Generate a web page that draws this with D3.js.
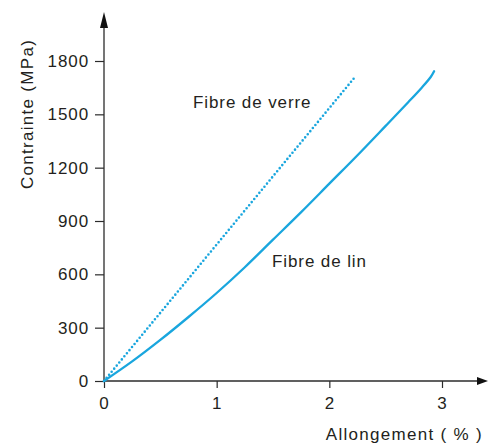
<!DOCTYPE html>
<html>
<head>
<meta charset="utf-8">
<script src="https://cdn.jsdelivr.net/npm/d3@7"></script>
<style>
  html, body { margin: 0; padding: 0; background: #fff; }
  svg { display: block; }
  text { font-family: "Liberation Sans", Arial, sans-serif; fill: #231f20; }
</style>
</head>
<body>
<svg id="chart" width="488" height="443"></svg>
<script>
// Data
const xTicks = [0, 1, 2, 3];
const yTicks = [0, 300, 600, 900, 1200, 1500, 1800];
const xTitle = "Allongement ( % )";
const yTitle = "Contrainte (MPa)";
const verreLabel = "Fibre de verre";
const linLabel = "Fibre de lin";
// Fibre de verre (linear, dotted)
const verreX = [0, 2.22];
const verreY = [0, 1704];
// Fibre de lin (solid curve)
const linX = [0, 0.25, 0.5, 0.75, 1, 1.25, 1.5, 1.75, 2, 2.25, 2.5, 2.7, 2.82, 2.9, 2.93];
const linY = [0, 110, 231, 360, 495, 640, 795, 950, 1110, 1270, 1435, 1568, 1650, 1710, 1742];

const svg = d3.select("#chart");
const x = d3.scaleLinear().domain([0, 3]).range([104, 442]);
const y = d3.scaleLinear().domain([0, 1800]).range([381, 61]);
const axisColor = "#2b2b2b";
const lineColor = "#19a6de";
const fontSize = "17px";
const ls = "0.9px";

// Y axis
const yAxis = svg.append("g").attr("transform", `translate(${x(0)},0)`)
  .call(d3.axisLeft(y).tickValues(yTicks).tickSize(9).tickPadding(6).tickFormat(d3.format("d")));
yAxis.select(".domain").remove();
yAxis.selectAll(".tick line").attr("stroke", axisColor).attr("stroke-width", 1.2);
yAxis.selectAll(".tick text").attr("font-size", fontSize).attr("letter-spacing", ls)
  .attr("font-family", "Liberation Sans, Arial, sans-serif").attr("fill", "#231f20");

// X axis
const xAxis = svg.append("g").attr("transform", `translate(0,${y(0)})`)
  .call(d3.axisBottom(x).tickValues(xTicks).tickSize(7).tickPadding(9).tickFormat(d3.format("d")));
xAxis.select(".domain").remove();
xAxis.selectAll(".tick line").attr("stroke", axisColor).attr("stroke-width", 1.2);
xAxis.selectAll(".tick text").attr("font-size", fontSize).attr("letter-spacing", ls)
  .attr("font-family", "Liberation Sans, Arial, sans-serif").attr("fill", "#231f20");

// Axis lines with arrows
svg.append("line").attr("x1", x(0)).attr("x2", x(0)).attr("y1", y(0)).attr("y2", 24)
  .attr("stroke", axisColor).attr("stroke-width", 1.3);
svg.append("path").attr("d", `M${x(0)},12 L${x(0) - 4},28 L${x(0) + 4},28 Z`).attr("fill", "#111");
svg.append("line").attr("x1", x(0)).attr("x2", 478).attr("y1", y(0)).attr("y2", y(0))
  .attr("stroke", axisColor).attr("stroke-width", 1.3);
svg.append("path").attr("d", `M488,${y(0)} L477,${y(0) - 4} L477,${y(0) + 4} Z`).attr("fill", "#111");

// Titles
svg.append("text").attr("x", 483).attr("y", 440).attr("text-anchor", "end")
  .attr("font-size", fontSize).attr("letter-spacing", "1.3px").text(xTitle);
svg.append("text").attr("transform", "translate(33,114) rotate(-90)").attr("text-anchor", "middle")
  .attr("font-size", fontSize).attr("letter-spacing", "1.3px").text(yTitle);

// Curves
const line = d3.line().x(d => x(d[0])).y(d => y(d[1])).curve(d3.curveCatmullRom.alpha(0.5));
svg.append("path").datum(verreX.map((v, i) => [v, verreY[i]]))
  .attr("d", d3.line().x(d => x(d[0])).y(d => y(d[1])))
  .attr("fill", "none").attr("stroke", lineColor).attr("stroke-width", 2.6)
  .attr("stroke-linecap", "round").attr("stroke-dasharray", "0 4");
svg.append("path").datum(linX.map((v, i) => [v, linY[i]]))
  .attr("d", line).attr("fill", "none").attr("stroke", lineColor).attr("stroke-width", 2.3)
  .attr("stroke-linecap", "round");

// Labels
svg.append("text").attr("x", 193).attr("y", 108).attr("font-size", fontSize)
  .attr("letter-spacing", ls).text(verreLabel);
svg.append("text").attr("x", 272).attr("y", 267).attr("font-size", fontSize)
  .attr("letter-spacing", ls).text(linLabel);
</script>
</body>
</html>
